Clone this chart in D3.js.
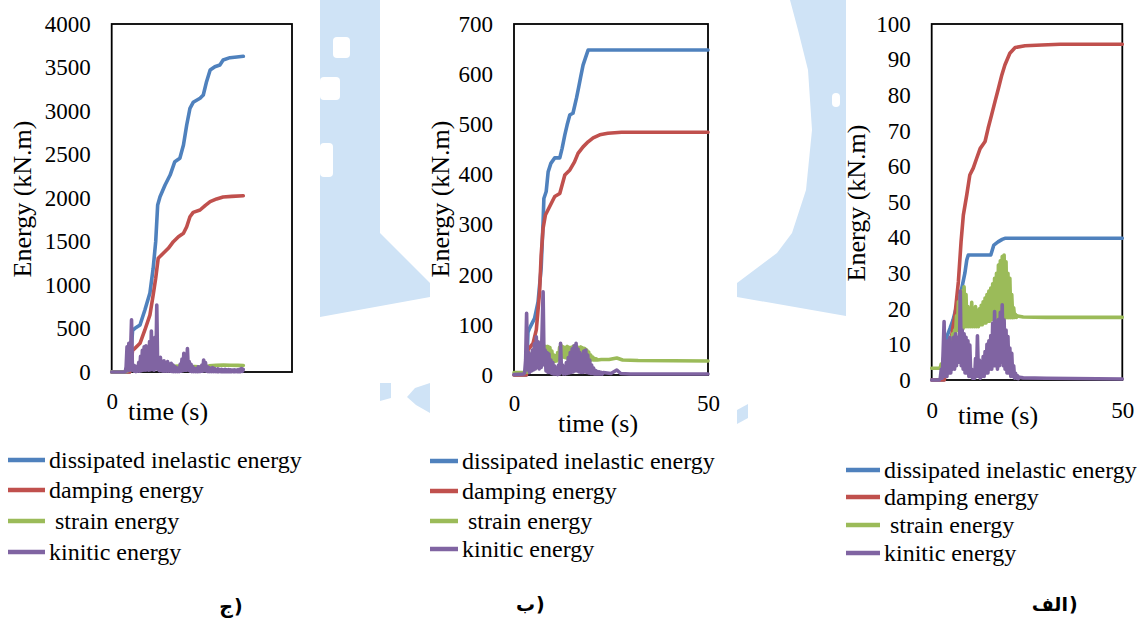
<!DOCTYPE html>
<html>
<head>
<meta charset="utf-8">
<script src="https://cdn.jsdelivr.net/npm/d3@7"></script>
<style>
  html, body { margin: 0; padding: 0; background: #fff; }
  svg { display: block; }
  .serif { font-family: 'Liberation Serif', 'Times New Roman', 'DejaVu Serif', serif; }
  .caption { font-family: 'DejaVu Sans', sans-serif; font-weight: bold; }
</style>
</head>
<body>
<svg id="chart" width="1137" height="625"></svg>
<script>
// ---------- series names, colours, tick labels ----------
const seriesNames = ["dissipated inelastic energy", "damping energy", " strain energy", "kinitic energy"];
const seriesColors = ["#4f81bd", "#c0504d", "#9bbb59", "#8064a2"];
const panelLetters = ["ج", "ب", "الف"];
const timeTicksFirst = [0];
const timeTicks = [0, 50];
const energyTicksJ = [0, 500, 1000, 1500, 2000, 2500, 3000, 3500, 4000];
const energyTicksB = [0, 100, 200, 300, 400, 500, 600, 700];
const energyTicksA = [0, 10, 20, 30, 40, 50, 60, 70, 80, 90, 100];

// sampling interval of the oscillating (strain / kinetic) records, seconds
const sampleStep = 0.25;

// ---------- panel ج : [time s, energy kN.m] ----------
const jDissipated = [[0,0],[5.0,0],[5.8,480],[6.46,502],[7.85,540],[9.2,713],[10.6,908],[11.5,1192],[12.2,1498],[12.75,1920],[13.4,2015],[14.8,2149],[16.2,2264],[17.5,2417],[18.9,2456],[19.9,2609],[20.8,2839],[21.7,3031],[22.6,3100],[24.5,3146],[25.4,3184],[26.3,3337],[27.3,3471],[28.6,3509],[30.0,3529],[30.9,3586],[32.8,3613],[34.7,3621],[36.5,3629]];
const jDamping = [[0,0],[5.0,0],[5.8,250],[6.46,272],[7.85,330],[9.2,483],[10.6,655],[11.5,885],[12.2,1077],[12.9,1307],[14.3,1364],[15.7,1422],[17.1,1498],[18.5,1555],[19.9,1594],[20.8,1670],[21.7,1785],[22.6,1835],[24.5,1862],[25.9,1912],[27.3,1958],[29.1,1989],[30.9,2011],[33.3,2019],[36.5,2026]];
const jStrain = [[0,2],[3.8,2],[4.5,15],[5.5,35],[7,45],[9,55],[11,65],[13,80],[15,70],[17,65],[19,68],[21,62],[23,64],[25,58],[27,70],[29,78],[31,80],[33,78],[35,76],[36.5,74]];
const jKineticLead = [[0,0]];
const jKineticStart = 3.75;
const jKinetic = [0,60,290,15,330,20,250,600,20,80,10,70,5,60,10,110,10,180,15,250,20,290,20,300,25,220,20,350,25,470,30,200,20,400,40,770,30,160,15,170,15,120,10,130,10,100,10,120,10,90,10,100,5,80,5,60,5,50,5,40,5,90,10,150,15,215,20,180,20,270,20,120,10,90,5,60,5,40,5,30,5,60,5,50,8,80,10,138,15,110,10,60,5,50,5,40,5,50,5,40,5,30,5,35,4,28,4,30,3,25,3,30,3,25,3,28,3,25,3,22,3,25,3,22,3,25,3,30,5,40,8,30];
const jKineticTail = [];

// ---------- panel ب ----------
const bDissipated = [[0,0],[3.2,0],[3.6,85],[4.0,93],[5.3,113],[6.2,146],[7.0,213],[7.5,306],[7.7,352],[8.3,366],[8.8,405],[9.5,422],[10.5,433],[11.8,433],[12.4,452],[13.1,479],[13.7,499],[14.4,519],[15.2,522],[16.1,552],[16.7,575],[17.2,595],[17.8,618],[18.4,632],[19.1,648],[50,648]];
const bDamping = [[0,0],[3.2,0],[3.6,50],[4.9,63],[5.75,90],[6.6,166],[7.0,239],[7.5,293],[8.1,319],[9.2,336],[10.5,356],[11.8,362],[13.1,399],[14.4,409],[15.6,425],[16.5,442],[17.8,455],[19.1,465],[20.4,473],[22.1,479],[24.2,482],[27.7,484],[50,484]];
const bStrainLead = [[0,5]];
const bStrainStart = 3.0;
const bStrain = [5,8,6,15,10,30,20,45,30,52,35,54,35,52,35,50,33,52,35,55,36,57,36,57,35,55,33,48,30,40,27,37,28,45,32,55,35,58,36,56,35,55,34,57,35,55,34,55,35,57,36,58,36,56,35,55,34,56,35,54,34,53,33,50,32,46,31,40,30,36,30,33,30,32,30];
const bStrainTail = [[22.5,31],[24.5,31],[26.5,34],[28,30],[32,29],[50,28]];
const bKineticLead = [[0,1]];
const bKineticStart = 2.5;
const bKinetic = [2,5,30,123,10,45,5,40,8,50,10,62,12,76,15,66,12,60,15,90,166,20,50,8,45,5,42,5,30,3,25,2,18,2,3,1,20,2,63,5,20,2,12,2,25,3,35,4,45,5,52,6,58,8,63,8,52,6,45,5,40,5,48,6,50,5,40,4,30,3,20,3,14,2,9,2,7,2,6,2,5,2,5];
const bKineticTail = [[25,3],[26.5,10],[27.5,3],[30,2],[50,2]];

// ---------- panel الف ----------
const aDissipated = [[0,0],[3.2,0],[3.6,10],[3.9,12],[4.8,14.5],[5.6,16.9],[6.5,20.6],[7.8,25.3],[8.7,30],[9.2,33.7],[9.6,35.1],[15.5,35.1],[15.9,36.5],[16.3,37.9],[17.4,38.8],[18.5,39.5],[19.2,39.8],[50,39.8]];
const aDamping = [[0,0],[3.3,0],[4.2,6],[5.2,12.2],[6.1,18.3],[7.0,27.6],[7.7,38.8],[8.3,46.3],[9.2,52],[10.0,57.6],[10.9,59.5],[11.8,62.3],[12.7,65],[14.0,67],[14.8,70.7],[15.7,74.4],[16.6,78.2],[17.5,81.9],[18.4,85.7],[19.2,88.5],[20.5,91.8],[21.9,93.4],[24.5,93.9],[28.9,94.1],[33.7,94.3],[50,94.3]];
const aStrainLead = [[0,3.3]];
const aStrainStart = 2.0;
const aStrain = [3.3,3.5,4.5,3.8,6,5,8,7,10,8,11,9.5,12,10.5,13,11.5,14,12.5,18,14,22,15,24,15,25,14.5,26.2,15,24,15,20.6,15,20,15,21.8,15,18.4,15,20.6,15,19.5,15,20,15.5,21,15.5,22,16,23,16,24,16.5,25,16.5,25.8,17,27,17,28.6,17,30,17,32.3,17.5,33.5,17.5,34.7,17.5,35.1,17.5,33.2,17.5,30,17.5,28.6,17.5,24,17.5,20.3,17.6,18.4,17.6,18];
const aStrainTail = [[24,17.7],[30,17.6],[50,17.6]];
const aKineticLead = [[0,0]];
const aKineticStart = 2.0;
const aKinetic = [0,0.5,3,0.5,8,16.4,1,10,1,11,2,12,2,10,3,12,3,13,4,12,5,6,25,4,14,3,13,2,12,2,11,1,9.8,1,3,0.5,2.8,0.5,6,1,12.4,1,5.6,0.5,5,1,6.6,1,8,2,10,2,11,3,12.5,3,16,4,19.2,4,14.9,3,17,4,19,5,21.1,4,16.9,3,14,2,12.2,2,9,1,7.5,1,4,0.5,1.9,0.5,1.2,0.4,0.8];
const aKineticTail = [[24,0.6],[30,0.5],[50,0.3]];

// ---------- helpers ----------
// place a sampled record on its time grid
function sampled(lead, start, values, tail) {
  return lead.concat(values.map((v, i) => [start + i * sampleStep, v]), tail);
}

const svg = d3.select("#chart");

// ---------- faint emblem in the background ----------
const emblem = svg.append("g").attr("fill", "#cfe3f6");
const emblemParts = [
  [[320,0],[380,0],[380,233],[430,283],[430,297],[320,317]],
  [[790,0],[846,0],[846,316],[737,297],[737,283],[777,253],[792,233],[806,190],[812,130],[808,70],[798,30]],
  [[430,383],[430,413],[416,405],[407,397],[415,388]],
  [[380,383],[391,383],[391,398],[380,401]],
  [[737,410],[748,404],[748,418],[737,424]]
];
emblem.selectAll("polygon").data(emblemParts).join("polygon")
  .attr("points", d => d.map(p => p.join(",")).join(" "));
const emblemHoles = svg.append("g").attr("fill", "#fff");
[[333,37,17,21],[320,77,20,23],[320,143,13,34],[832,93,8,14]].forEach(r => {
  emblemHoles.append("rect").attr("x", r[0]).attr("y", r[1]).attr("width", r[2]).attr("height", r[3]).attr("rx", 4);
});

// ---------- panels ----------
const panels = [
  {
    left: 111.7, right: 292, top: 24, bottom: 372, yMax: 4000, yTicks: energyTicksJ, xTicks: timeTicksFirst,
    xPad: 21, series: [jDissipated, jDamping, jStrain, sampled(jKineticLead, jKineticStart, jKinetic, jKineticTail)],
    yTitle: [22, 199], xTitle: [168, 411],
    legend: { x0: 8, x1: 45, tx: 49, rows: [460, 490, 521, 552] },
    caption: [233, 613]
  },
  {
    left: 514, right: 708, top: 24, bottom: 375, yMax: 700, yTicks: energyTicksB, xTicks: timeTicks,
    xPad: 19.6, series: [bDissipated, bDamping, sampled(bStrainLead, bStrainStart, bStrain, bStrainTail), sampled(bKineticLead, bKineticStart, bKinetic, bKineticTail)],
    yTitle: [440, 199], xTitle: [598, 423],
    legend: { x0: 430, x1: 458, tx: 462, rows: [461, 491, 521, 549] },
    caption: [535, 611]
  },
  {
    left: 931.7, right: 1122.3, top: 24, bottom: 380, yMax: 100, yTicks: energyTicksA, xTicks: timeTicks,
    xPad: 21.3, series: [aDissipated, aDamping, sampled(aStrainLead, aStrainStart, aStrain, aStrainTail), sampled(aKineticLead, aKineticStart, aKinetic, aKineticTail)],
    yTitle: [856, 203], xTitle: [998, 415],
    legend: { x0: 846, x1: 880, tx: 884, rows: [470, 497, 525, 553] },
    caption: [1068, 611]
  }
];

panels.forEach((p, pi) => {
  const x = d3.scaleLinear().domain([0, 50]).range([p.left, p.right]);
  const y = d3.scaleLinear().domain([0, p.yMax]).range([p.bottom, p.top]);
  const g = svg.append("g");

  // plot area frame
  g.append("rect")
    .attr("x", p.left).attr("y", p.top)
    .attr("width", p.right - p.left).attr("height", p.bottom - p.top)
    .attr("fill", "none").attr("stroke", "#000").attr("stroke-width", 1.8);

  // energy axis labels
  g.append("g")
    .attr("transform", `translate(${p.left},0)`)
    .call(d3.axisLeft(y).tickValues(p.yTicks).tickSize(0).tickPadding(21).tickFormat(d3.format("d")))
    .call(a => a.select(".domain").remove())
    .call(a => a.attr("font-family", null).attr("font-size", null))
    .selectAll("text")
    .attr("class", "serif").style("font-size", "23px").attr("fill", "#000");

  // time axis labels
  g.append("g")
    .attr("transform", `translate(0,${p.bottom})`)
    .call(d3.axisBottom(x).tickValues(p.xTicks).tickSize(0).tickPadding(p.xPad).tickFormat(d3.format("d")))
    .call(a => a.select(".domain").remove())
    .call(a => a.attr("font-family", null).attr("font-size", null))
    .selectAll("text")
    .attr("class", "serif").style("font-size", "23px").attr("fill", "#000");

  // axis titles
  g.append("text")
    .attr("class", "serif")
    .attr("transform", `translate(${p.yTitle[0]},${p.yTitle[1]}) rotate(-90)`)
    .attr("text-anchor", "middle").attr("dominant-baseline", "central")
    .style("font-size", "26px").text("Energy (kN.m)");
  g.append("text")
    .attr("class", "serif")
    .attr("x", p.xTitle[0]).attr("y", p.xTitle[1])
    .attr("text-anchor", "middle").attr("dominant-baseline", "central")
    .style("font-size", "26px").text("time (s)");

  // energy histories
  const line = d3.line().x(d => x(d[0])).y(d => y(d[1]));
  g.append("g").selectAll("path").data(p.series).join("path")
    .attr("d", line)
    .attr("fill", "none")
    .attr("stroke", (d, i) => seriesColors[i])
    .attr("stroke-width", 3.6)
    .attr("stroke-linejoin", "round")
    .attr("stroke-linecap", "round");

  // legend
  const lg = g.append("g");
  seriesNames.forEach((name, i) => {
    const yy = p.legend.rows[i];
    lg.append("line")
      .attr("x1", p.legend.x0).attr("x2", p.legend.x1)
      .attr("y1", yy).attr("y2", yy)
      .attr("stroke", seriesColors[i]).attr("stroke-width", 4.5);
    lg.append("text")
      .attr("class", "serif")
      .attr("x", p.legend.tx).attr("y", yy)
      .attr("dominant-baseline", "central")
      .style("font-size", "24px")
      .style("white-space", "pre")
      .text(name);
  });

  // panel caption: letter, then the closing parenthesis on its right
  g.append("text")
    .attr("class", "caption")
    .attr("x", p.caption[0]).attr("y", p.caption[1])
    .attr("text-anchor", "end")
    .style("font-size", "19px")
    .text(panelLetters[pi]);
  g.append("text")
    .attr("class", "caption")
    .attr("x", p.caption[0] + 1).attr("y", p.caption[1])
    .attr("text-anchor", "start")
    .style("font-size", "19px")
    .text(")");
});
</script>
</body>
</html>
